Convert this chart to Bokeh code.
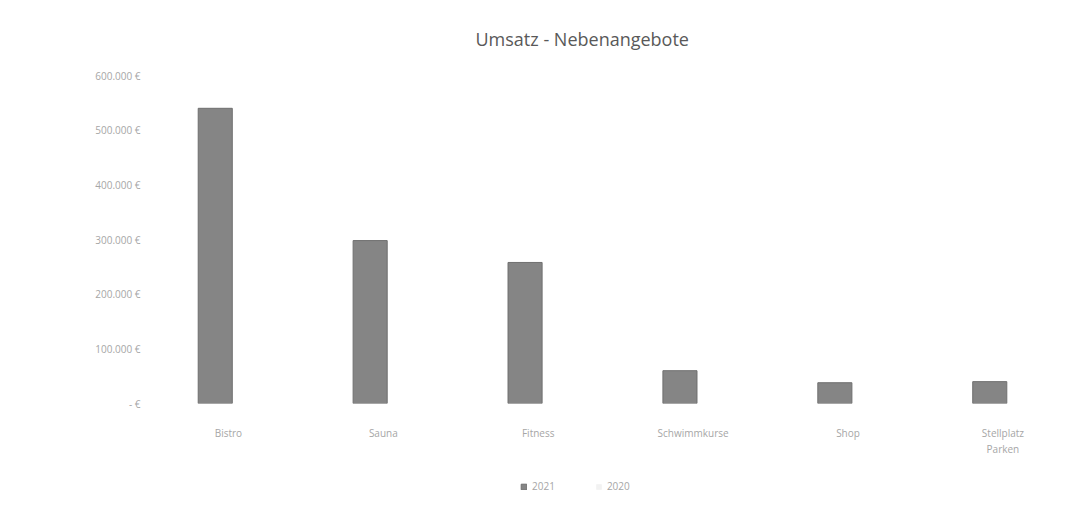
from bokeh.plotting import figure
from bokeh.layouts import column
from bokeh.models import (ColumnDataSource, FixedTicker, Legend, LegendItem, Title)
from bokeh.transform import dodge
from bokeh.embed import file_html
from bokeh.resources import INLINE

categories = ["Bistro", "Sauna", "Fitness", "Schwimmkurse", "Shop", "Stellplatz\nParken"]
umsatz_2021 = [540000, 298000, 258000, 60000, 38000, 40000]
umsatz_2020 = [0, 0, 0, 0, 0, 0]
series_names = ["2021", "2020"]
y_ticks = [0, 100000, 200000, 300000, 400000, 500000, 600000]
y_tick_labels = ["- €", "100.000 €", "200.000 €", "300.000 €", "400.000 €", "500.000 €", "600.000 €"]

xs = list(range(len(categories)))
src = ColumnDataSource(dict(x=xs, y21=umsatz_2021, y20=umsatz_2020))

FONT = "Open Sans"
C21 = "#858585"
C20 = "#f2f2f2"
p = figure(width=1052, height=470, output_backend="svg", toolbar_location=None,
           x_range=(-0.503, 5.32), y_range=(0, 600000),
           min_border_left=150, min_border_right=0, min_border_top=75, min_border_bottom=67)

r21 = p.vbar(x=dodge("x", -0.085, range=p.x_range), top="y21", width=0.22, source=src,
             fill_color=C21, line_color="#6f6f6f", line_width=1)
r20 = p.vbar(x=dodge("x", 0.135, range=p.x_range), top="y20", width=0.22, source=src,
             fill_color=C20, line_color=None)

t = Title(text="Umsatz - Nebenangebote", align="left", offset=325,
          text_font=FONT, text_font_size="18px", text_font_style="normal",
          text_color="#595959", standoff=49)
p.add_layout(t, "above")

p.xaxis.ticker = FixedTicker(ticks=xs)
p.xaxis.major_label_overrides = {i: c for i, c in enumerate(categories)}
p.yaxis.ticker = FixedTicker(ticks=y_ticks)
p.yaxis.major_label_overrides = {v: l for v, l in zip(y_ticks, y_tick_labels)}

for ax in (p.xaxis[0], p.yaxis[0]):
    ax.axis_line_color = None
    ax.major_tick_line_color = None
    ax.minor_tick_line_color = None
    ax.major_label_text_font = FONT
    ax.major_label_text_color = "#a6a6a6"
    ax.major_label_text_font_size = "10px"

p.xaxis.major_label_standoff = 16
p.yaxis.major_label_standoff = 4
p.xgrid.grid_line_color = None
p.ygrid.grid_line_color = None
p.outline_line_color = None

# legend strip below the chart (swatch renderers sit outside the visible range)
p2 = figure(width=1052, height=40, output_backend="svg", toolbar_location=None,
            x_range=(0, 1), y_range=(0, 1), x_axis_location=None, y_axis_location=None,
            min_border=0)
p2.xgrid.grid_line_color = None
p2.ygrid.grid_line_color = None
p2.outline_line_color = None
l21 = p2.vbar(x=[10], top=[0], width=0.1, fill_color=C21, line_color="#6f6f6f")
l20 = p2.vbar(x=[10], top=[0], width=0.1, fill_color=C20, line_color=None)
legend = Legend(items=[LegendItem(label=series_names[0], renderers=[l21]),
                       LegendItem(label=series_names[1], renderers=[l20])],
                orientation="horizontal", location=(370, 17),
                label_text_font=FONT, label_text_font_size="10px",
                label_text_color="#a6a6a6", glyph_width=7, glyph_height=7,
                spacing=40, border_line_color=None, background_fill_alpha=0,
                padding=0, margin=0)
p2.add_layout(legend, "center")

open("out.html", "w").write(file_html(column(p, p2, spacing=0), INLINE))
